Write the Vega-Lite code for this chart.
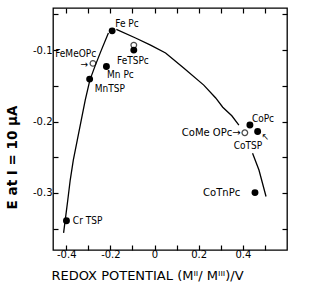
{
  "$schema": "https://vega.github.io/schema/vega-lite/v6.json",
  "width": 234,
  "height": 242,
  "autosize": "none",
  "padding": {"left": 53, "top": 8, "right": 22, "bottom": 36},
  "background": "white",
  "config": {
    "view": {"stroke": "black", "strokeWidth": 1.3},
    "font": "DejaVu Sans"
  },
  "datasets": {
    "curve": [
      {"seg": "A", "x": -0.412, "y": -0.356},
      {"seg": "A", "x": -0.400, "y": -0.327},
      {"seg": "A", "x": -0.393, "y": -0.310},
      {"seg": "A", "x": -0.382, "y": -0.282},
      {"seg": "A", "x": -0.368, "y": -0.254},
      {"seg": "A", "x": -0.350, "y": -0.226},
      {"seg": "A", "x": -0.332, "y": -0.198},
      {"seg": "A", "x": -0.314, "y": -0.170},
      {"seg": "A", "x": -0.293, "y": -0.142},
      {"seg": "A", "x": -0.268, "y": -0.121},
      {"seg": "A", "x": -0.241, "y": -0.100},
      {"seg": "A", "x": -0.209, "y": -0.076},
      {"seg": "B", "x": -0.173, "y": -0.071},
      {"seg": "B", "x": -0.086, "y": -0.083},
      {"seg": "B", "x": -0.018, "y": -0.093},
      {"seg": "B", "x": 0.050, "y": -0.104},
      {"seg": "B", "x": 0.132, "y": -0.125},
      {"seg": "B", "x": 0.223, "y": -0.149},
      {"seg": "B", "x": 0.277, "y": -0.167},
      {"seg": "B", "x": 0.309, "y": -0.180},
      {"seg": "B", "x": 0.350, "y": -0.192},
      {"seg": "B", "x": 0.382, "y": -0.205},
      {"seg": "C", "x": 0.444, "y": -0.2445},
      {"seg": "C", "x": 0.473, "y": -0.268},
      {"seg": "C", "x": 0.505, "y": -0.305}
    ],
    "points": [
      {"name": "FeTSPc open", "kind": "open", "x": -0.094, "y": -0.093},
      {"name": "FeMeOPc", "kind": "open", "x": -0.279, "y": -0.1186},
      {"name": "CoMeOPc", "kind": "open", "x": 0.409, "y": -0.2157},
      {"name": "Fe Pc", "kind": "filled", "x": -0.192, "y": -0.073},
      {"name": "FeTSPc", "kind": "filled", "x": -0.094, "y": -0.100},
      {"name": "Mn Pc", "kind": "filled", "x": -0.218, "y": -0.123},
      {"name": "MnTSP", "kind": "filled", "x": -0.294, "y": -0.1406},
      {"name": "CoPc", "kind": "filled", "x": 0.432, "y": -0.205},
      {"name": "CoTSP", "kind": "filled", "x": 0.467, "y": -0.214},
      {"name": "CoTnPc", "kind": "filled", "x": 0.455, "y": -0.2996},
      {"name": "Cr TSP", "kind": "filled", "x": -0.399, "y": -0.339}
    ],
    "labels": [
      {"label": "Fe Pc", "side": "left", "x": -0.178, "y": -0.064},
      {"label": "FeTSPc", "side": "left", "x": -0.170, "y": -0.115},
      {"label": "FeMeOPc", "side": "left", "x": -0.450, "y": -0.106},
      {"label": "→", "side": "left", "x": -0.335, "y": -0.1205},
      {"label": "Mn Pc", "side": "left", "x": -0.215, "y": -0.135},
      {"label": "MnTSP", "side": "left", "x": -0.271, "y": -0.155},
      {"label": "CoPc", "side": "left", "x": 0.441, "y": -0.1965},
      {"label": "CoTSP", "side": "left", "x": 0.359, "y": -0.235},
      {"label": "↖", "side": "left", "x": 0.485, "y": -0.222},
      {"label": "Cr TSP", "side": "left", "x": -0.370, "y": -0.339},
      {"label": "CoMe OPc→", "side": "right", "x": 0.390, "y": -0.2166},
      {"label": "CoTnPc", "side": "right", "x": 0.388, "y": -0.300}
    ]
  },
  "layer": [
    {
      "data": {"name": "curve"},
      "mark": {"type": "line", "color": "black", "strokeWidth": 1.3, "clip": true},
      "encoding": {
        "x": {
          "field": "x", "type": "quantitative",
          "scale": {"domain": [-0.46, 0.6], "nice": false, "zero": false},
          "axis": {
            "orient": "bottom",
            "values": [-0.4, -0.3, -0.2, -0.1, 0, 0.1, 0.2, 0.3, 0.4, 0.5],
            "labelExpr": "abs(round(datum.value*10)) % 2 == 0 ? '' + datum.value : ''",
            "domain": false, "grid": false,
            "tickSize": -5, "tickColor": "black", "tickWidth": 1.2,
            "labelPadding": 4, "labelFontSize": 10, "labelColor": "black",
            "title": "REDOX  POTENTIAL (Mᴵᴵ/ Mᴵᴵᴵ)/V",
            "titleFontSize": 13, "titleFontWeight": "normal", "titleColor": "black",
            "titleX": 94, "titleY": 25, "titleBaseline": "middle", "titleAlign": "center"
          }
        },
        "y": {
          "field": "y", "type": "quantitative",
          "scale": {"domain": [-0.38, -0.041], "nice": false, "zero": false},
          "axis": {
            "orient": "left",
            "values": [-0.35, -0.3, -0.25, -0.2, -0.15, -0.1, -0.05],
            "labelExpr": "abs(round(datum.value*100)) % 10 == 0 ? '' + datum.value : ''",
            "domain": false, "grid": false,
            "tickSize": -5, "tickColor": "black", "tickWidth": 1.2,
            "labelPadding": 6, "labelFontSize": 10, "labelColor": "black",
            "title": "E  at  I = 10 μA",
            "titleFontSize": 13.5, "titleFontWeight": "bold", "titleColor": "black",
            "titleX": -41, "titleY": 149, "titleBaseline": "middle", "titleAlign": "center"
          }
        },
        "detail": {"field": "seg"}
      }
    },
    {
      "data": {"name": "curve"},
      "mark": {"type": "line", "opacity": 0},
      "encoding": {
        "x": {
          "field": "x", "type": "quantitative",
          "axis": {
            "orient": "top",
            "values": [-0.4, -0.3, -0.2, -0.1, 0, 0.1, 0.2, 0.3, 0.4, 0.5],
            "labels": false, "domain": false, "grid": false, "title": null,
            "tickSize": -5, "tickColor": "black", "tickWidth": 1.2
          }
        },
        "y": {
          "field": "y", "type": "quantitative",
          "axis": {
            "orient": "right",
            "values": [-0.35, -0.3, -0.25, -0.2, -0.15, -0.1, -0.05],
            "labels": false, "domain": false, "grid": false, "title": null,
            "tickSize": -5, "tickColor": "black", "tickWidth": 1.2
          }
        },
        "detail": {"field": "seg"}
      }
    },
    {
      "data": {"name": "points"},
      "transform": [{"filter": "datum.kind == 'open'"}],
      "mark": {"type": "point", "shape": "circle", "filled": false, "fill": "white", "stroke": "black", "strokeWidth": 1.3, "size": 32},
      "encoding": {
        "x": {"field": "x", "type": "quantitative", "axis": null},
        "y": {"field": "y", "type": "quantitative", "axis": null}
      }
    },
    {
      "data": {"name": "points"},
      "transform": [{"filter": "datum.kind == 'filled'"}],
      "mark": {"type": "circle", "color": "black", "opacity": 1, "size": 48},
      "encoding": {
        "x": {"field": "x", "type": "quantitative", "axis": null},
        "y": {"field": "y", "type": "quantitative", "axis": null}
      }
    },
    {
      "data": {"name": "labels"},
      "transform": [{"filter": "datum.side == 'left'"}],
      "mark": {"type": "text", "align": "left", "baseline": "middle", "fontSize": 10, "font": "DejaVu Sans Condensed", "color": "black"},
      "encoding": {
        "x": {"field": "x", "type": "quantitative", "axis": null},
        "y": {"field": "y", "type": "quantitative", "axis": null},
        "text": {"field": "label"}
      }
    },
    {
      "data": {"name": "labels"},
      "transform": [{"filter": "datum.side == 'right'"}],
      "mark": {"type": "text", "align": "right", "baseline": "middle", "fontSize": 10, "color": "black"},
      "encoding": {
        "x": {"field": "x", "type": "quantitative", "axis": null},
        "y": {"field": "y", "type": "quantitative", "axis": null},
        "text": {"field": "label"}
      }
    }
  ],
  "resolve": {"axis": {"x": "independent", "y": "independent"}}
}
